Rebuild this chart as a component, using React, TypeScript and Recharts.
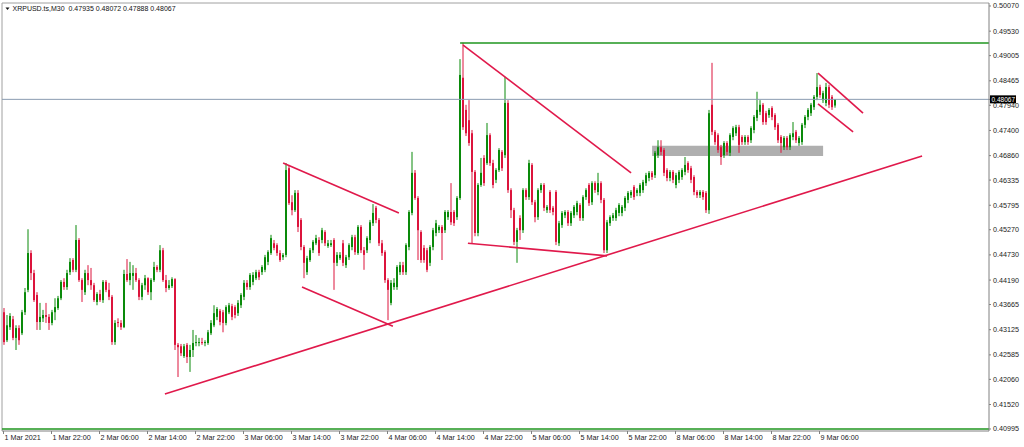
import React from 'react';
import { ComposedChart, Bar, XAxis, YAxis, ReferenceLine, ReferenceArea } from 'recharts';

// XRPUSD M30 candles (oldest first)
const opens = [
  0.4350, 0.4290, 0.4318, 0.4335, 0.4295, 0.4316, 0.4305, 0.4350, 0.4398, 0.4477,
  0.4434, 0.4387, 0.4329, 0.4337, 0.4344, 0.4340, 0.4327, 0.4350, 0.4359, 0.4380,
  0.4415, 0.4404, 0.4436, 0.4462, 0.4441, 0.4505, 0.4419, 0.4393, 0.4434, 0.4419,
  0.4408, 0.4372, 0.4389, 0.4376, 0.4415, 0.4398, 0.4383, 0.4286, 0.4329, 0.4327,
  0.4318, 0.4432, 0.4419, 0.4428, 0.4434, 0.4419, 0.4383, 0.4408, 0.4423, 0.4393,
  0.4419, 0.4447, 0.4441, 0.4483, 0.4419, 0.4402, 0.4406, 0.4421, 0.4280, 0.4277,
  0.4256, 0.4280, 0.4254, 0.4269, 0.4284, 0.4284, 0.4286, 0.4284, 0.4284, 0.4305,
  0.4322, 0.4340, 0.4353, 0.4350, 0.4327, 0.4350, 0.4363, 0.4361, 0.4348, 0.4365,
  0.4383, 0.4413, 0.4404, 0.4415, 0.4423, 0.4436, 0.4436, 0.4441, 0.4458, 0.4477,
  0.4498, 0.4494, 0.4477, 0.4468, 0.4473, 0.4659, 0.4586, 0.4569, 0.4606, 0.4548,
  0.4490, 0.4436, 0.4462, 0.4483, 0.4498, 0.4505, 0.4505, 0.4522, 0.4492, 0.4494,
  0.4505, 0.4456, 0.4466, 0.4498, 0.4451, 0.4468, 0.4490, 0.4511, 0.4477, 0.4533,
  0.4483, 0.4483, 0.4505, 0.4541, 0.4574, 0.4548, 0.4498, 0.4479, 0.4419, 0.4370,
  0.4404, 0.4404, 0.4436, 0.4451, 0.4436, 0.4490, 0.4563, 0.4649, 0.4595, 0.4522,
  0.4488, 0.4483, 0.4456, 0.4490, 0.4520, 0.4526, 0.4533, 0.4526, 0.4554, 0.4565,
  0.4565, 0.4554, 0.4595, 0.4853, 0.4784, 0.4762, 0.4734, 0.4651, 0.4520, 0.4623,
  0.4681, 0.4670, 0.4730, 0.4670, 0.4634, 0.4655, 0.4694, 0.4687, 0.4799, 0.4612,
  0.4569, 0.4501, 0.4552, 0.4526, 0.4612, 0.4597, 0.4666, 0.4586, 0.4554, 0.4612,
  0.4623, 0.4569, 0.4608, 0.4574, 0.4608, 0.4498, 0.4537, 0.4558, 0.4565, 0.4541,
  0.4558, 0.4565, 0.4580, 0.4552, 0.4597, 0.4623, 0.4586, 0.4627, 0.4608, 0.4627,
  0.4591, 0.4483, 0.4541, 0.4552, 0.4552, 0.4563, 0.4563, 0.4574, 0.4591, 0.4601,
  0.4619, 0.4606, 0.4606, 0.4612, 0.4627, 0.4638, 0.4649, 0.4644, 0.4687, 0.4704,
  0.4698, 0.4655, 0.4638, 0.4651, 0.4623, 0.4634, 0.4640, 0.4651, 0.4670, 0.4659,
  0.4640, 0.4608, 0.4601, 0.4608, 0.4606, 0.4569, 0.4795, 0.4737, 0.4730, 0.4704,
  0.4687, 0.4713, 0.4692, 0.4726, 0.4734, 0.4747, 0.4726, 0.4715, 0.4726, 0.4719,
  0.4741, 0.4767, 0.4780, 0.4795, 0.4777, 0.4773, 0.4788, 0.4773, 0.4752, 0.4726,
  0.4704, 0.4724, 0.4704, 0.4726, 0.4737, 0.4713, 0.4715, 0.4752, 0.4769, 0.4777,
  0.4790, 0.4812, 0.4833, 0.4805, 0.4799, 0.4833, 0.4812, 0.47935,
];

const highs = [
  0.4359, 0.4344, 0.4348, 0.4342, 0.4322, 0.4322, 0.4355, 0.4402, 0.4528, 0.4483,
  0.4441, 0.4393, 0.4370, 0.4355, 0.4370, 0.4346, 0.4355, 0.4380, 0.4385, 0.4419,
  0.4423, 0.4441, 0.4466, 0.4466, 0.4537, 0.4509, 0.4423, 0.4441, 0.4451, 0.4445,
  0.4413, 0.4393, 0.4398, 0.4419, 0.4419, 0.4413, 0.4387, 0.4333, 0.4337, 0.4333,
  0.4441, 0.4464, 0.4458, 0.4451, 0.4445, 0.4423, 0.4413, 0.4430, 0.4425, 0.4423,
  0.4458, 0.4451, 0.4494, 0.4488, 0.4430, 0.4419, 0.4425, 0.4423, 0.4284, 0.4282,
  0.4282, 0.4284, 0.4280, 0.4312, 0.4301, 0.4295, 0.4295, 0.4290, 0.4312, 0.4333,
  0.4365, 0.4361, 0.4357, 0.4355, 0.4365, 0.4370, 0.4368, 0.4365, 0.4376, 0.4391,
  0.4419, 0.4419, 0.4434, 0.4436, 0.4441, 0.4441, 0.4451, 0.4473, 0.4483, 0.4516,
  0.4505, 0.4498, 0.4483, 0.4477, 0.4670, 0.4666, 0.4601, 0.4612, 0.4612, 0.4552,
  0.4494, 0.4471, 0.4488, 0.4505, 0.4516, 0.4511, 0.4531, 0.4526, 0.4505, 0.4505,
  0.4509, 0.4479, 0.4479, 0.4505, 0.4473, 0.4498, 0.4516, 0.4516, 0.4537, 0.4537,
  0.4490, 0.4513, 0.4548, 0.4582, 0.4578, 0.4552, 0.4505, 0.4483, 0.4423, 0.4419,
  0.4423, 0.4451, 0.4458, 0.4458, 0.4498, 0.4569, 0.4694, 0.4655, 0.4599, 0.4526,
  0.4494, 0.4488, 0.4494, 0.4531, 0.4548, 0.4537, 0.4537, 0.4569, 0.4569, 0.4627,
  0.4569, 0.4599, 0.4893, 0.4928, 0.4795, 0.4805, 0.4741, 0.4655, 0.4627, 0.4681,
  0.4687, 0.4756, 0.4734, 0.4677, 0.4659, 0.4702, 0.4698, 0.4855, 0.4805, 0.4616,
  0.4574, 0.4531, 0.4558, 0.4616, 0.4616, 0.4677, 0.4670, 0.4591, 0.4616, 0.4627,
  0.4627, 0.4580, 0.4612, 0.4578, 0.4612, 0.4546, 0.4567, 0.4569, 0.4569, 0.4567,
  0.4580, 0.4589, 0.4584, 0.4601, 0.4616, 0.4627, 0.4631, 0.4631, 0.4649, 0.4631,
  0.4595, 0.4548, 0.4558, 0.4563, 0.4574, 0.4584, 0.4580, 0.4599, 0.4610, 0.4612,
  0.4623, 0.4616, 0.4627, 0.4634, 0.4649, 0.4653, 0.4653, 0.4696, 0.4719, 0.4719,
  0.4702, 0.4659, 0.4655, 0.4655, 0.4649, 0.4655, 0.4659, 0.4683, 0.4674, 0.4664,
  0.4644, 0.4612, 0.4612, 0.4612, 0.4610, 0.4784, 0.4885, 0.4741, 0.4734, 0.4709,
  0.4717, 0.4717, 0.4734, 0.4749, 0.4752, 0.4752, 0.4730, 0.4730, 0.4730, 0.4749,
  0.4773, 0.4823, 0.4805, 0.4799, 0.4782, 0.4788, 0.4792, 0.4777, 0.4756, 0.4730,
  0.4728, 0.4728, 0.4734, 0.4758, 0.4741, 0.4728, 0.4756, 0.4773, 0.4788, 0.4799,
  0.4816, 0.4863, 0.4838, 0.4825, 0.4842, 0.4838, 0.4816, 0.48072,
];

const lows = [
  0.4280, 0.4286, 0.4312, 0.4290, 0.4269, 0.4280, 0.4301, 0.4344, 0.4393, 0.4419,
  0.4372, 0.4312, 0.4312, 0.4329, 0.4327, 0.4312, 0.4322, 0.4333, 0.4355, 0.4376,
  0.4398, 0.4398, 0.4430, 0.4436, 0.4436, 0.4415, 0.4372, 0.4387, 0.4408, 0.4398,
  0.4372, 0.4365, 0.4372, 0.4370, 0.4393, 0.4376, 0.4280, 0.4280, 0.4318, 0.4312,
  0.4316, 0.4415, 0.4408, 0.4398, 0.4415, 0.4376, 0.4376, 0.4398, 0.4387, 0.4376,
  0.4415, 0.4436, 0.4436, 0.4415, 0.4393, 0.4398, 0.4402, 0.4269, 0.4211, 0.4256,
  0.4252, 0.4241, 0.4222, 0.4254, 0.4277, 0.4277, 0.4280, 0.4277, 0.4280, 0.4301,
  0.4318, 0.4333, 0.4322, 0.4307, 0.4322, 0.4346, 0.4333, 0.4337, 0.4342, 0.4359,
  0.4376, 0.4398, 0.4398, 0.4408, 0.4419, 0.4419, 0.4430, 0.4436, 0.4451, 0.4473,
  0.4483, 0.4471, 0.4458, 0.4462, 0.4468, 0.4580, 0.4558, 0.4565, 0.4522, 0.4483,
  0.4423, 0.4430, 0.4458, 0.4477, 0.4494, 0.4471, 0.4498, 0.4492, 0.4488, 0.4490,
  0.4398, 0.4449, 0.4462, 0.4449, 0.4445, 0.4462, 0.4483, 0.4473, 0.4473, 0.4477,
  0.4441, 0.4477, 0.4498, 0.4535, 0.4541, 0.4492, 0.4471, 0.4413, 0.4333, 0.4365,
  0.4398, 0.4398, 0.4430, 0.4430, 0.4430, 0.4483, 0.4558, 0.4591, 0.4462, 0.4456,
  0.4456, 0.4436, 0.4449, 0.4483, 0.4513, 0.4520, 0.4462, 0.4520, 0.4548, 0.4537,
  0.4535, 0.4548, 0.4591, 0.4741, 0.4728, 0.4707, 0.4498, 0.4513, 0.4513, 0.4619,
  0.4621, 0.4666, 0.4664, 0.4616, 0.4627, 0.4651, 0.4653, 0.4681, 0.4606, 0.4552,
  0.4494, 0.4456, 0.4505, 0.4520, 0.4591, 0.4591, 0.4580, 0.4543, 0.4548, 0.4606,
  0.4567, 0.4563, 0.4563, 0.4558, 0.4494, 0.4492, 0.4531, 0.4552, 0.4535, 0.4535,
  0.4552, 0.4558, 0.4546, 0.4546, 0.4591, 0.4578, 0.4580, 0.4606, 0.4601, 0.4584,
  0.4477, 0.4477, 0.4535, 0.4546, 0.4546, 0.4556, 0.4556, 0.4567, 0.4584, 0.4595,
  0.4591, 0.4599, 0.4599, 0.4606, 0.4621, 0.4631, 0.4634, 0.4638, 0.4681, 0.4687,
  0.4642, 0.4631, 0.4631, 0.4627, 0.4616, 0.4627, 0.4634, 0.4644, 0.4649, 0.4627,
  0.4601, 0.4595, 0.4595, 0.4591, 0.4563, 0.4561, 0.4730, 0.4709, 0.4692, 0.4666,
  0.4681, 0.4687, 0.4685, 0.4719, 0.4728, 0.4692, 0.4709, 0.4709, 0.4709, 0.4713,
  0.4734, 0.4760, 0.4773, 0.4752, 0.4752, 0.4767, 0.4762, 0.4741, 0.4713, 0.4692,
  0.4698, 0.4698, 0.4698, 0.4719, 0.4713, 0.4707, 0.4709, 0.4745, 0.4762, 0.4771,
  0.4784, 0.4805, 0.4810, 0.4799, 0.4792, 0.4788, 0.4784, 0.47888,
];

const closes = [
  0.4286, 0.4322, 0.4342, 0.4295, 0.4316, 0.4290, 0.4350, 0.4393, 0.4477, 0.4434,
  0.4376, 0.4329, 0.4340, 0.4344, 0.4340, 0.4327, 0.4350, 0.4361, 0.4380, 0.4415,
  0.4404, 0.4434, 0.4458, 0.4441, 0.4505, 0.4419, 0.4398, 0.4434, 0.4419, 0.4408,
  0.4376, 0.4389, 0.4376, 0.4415, 0.4398, 0.4383, 0.4286, 0.4327, 0.4327, 0.4318,
  0.4432, 0.4419, 0.4434, 0.4434, 0.4419, 0.4383, 0.4408, 0.4423, 0.4393, 0.4419,
  0.4447, 0.4441, 0.4483, 0.4419, 0.4402, 0.4408, 0.4421, 0.4280, 0.4275, 0.4262,
  0.4277, 0.4254, 0.4269, 0.4284, 0.4286, 0.4286, 0.4284, 0.4286, 0.4307, 0.4327,
  0.4348, 0.4357, 0.4329, 0.4327, 0.4361, 0.4365, 0.4340, 0.4344, 0.4370, 0.4387,
  0.4413, 0.4404, 0.4430, 0.4430, 0.4436, 0.4425, 0.4447, 0.4468, 0.4479, 0.4509,
  0.4488, 0.4477, 0.4462, 0.4473, 0.4655, 0.4584, 0.4569, 0.4606, 0.4533, 0.4490,
  0.4456, 0.4466, 0.4483, 0.4501, 0.4509, 0.4477, 0.4526, 0.4498, 0.4498, 0.4498,
  0.4456, 0.4473, 0.4473, 0.4456, 0.4468, 0.4494, 0.4511, 0.4479, 0.4533, 0.4483,
  0.4473, 0.4509, 0.4543, 0.4563, 0.4548, 0.4498, 0.4477, 0.4419, 0.4398, 0.4413,
  0.4413, 0.4447, 0.4451, 0.4436, 0.4494, 0.4565, 0.4649, 0.4595, 0.4526, 0.4462,
  0.4462, 0.4441, 0.4490, 0.4526, 0.4541, 0.4533, 0.4520, 0.4565, 0.4565, 0.4543,
  0.4541, 0.4595, 0.4859, 0.4747, 0.4734, 0.4713, 0.4651, 0.4520, 0.4623, 0.4649,
  0.4627, 0.4730, 0.4670, 0.4623, 0.4655, 0.4698, 0.4659, 0.4799, 0.4612, 0.4569,
  0.4501, 0.4526, 0.4526, 0.4612, 0.4597, 0.4670, 0.4586, 0.4554, 0.4612, 0.4623,
  0.4574, 0.4576, 0.4569, 0.4565, 0.4501, 0.4541, 0.4563, 0.4565, 0.4541, 0.4563,
  0.4576, 0.4584, 0.4552, 0.4597, 0.4612, 0.4584, 0.4627, 0.4612, 0.4627, 0.4591,
  0.4483, 0.4543, 0.4554, 0.4558, 0.4569, 0.4580, 0.4576, 0.4595, 0.4606, 0.4608,
  0.4597, 0.4612, 0.4623, 0.4629, 0.4644, 0.4649, 0.4640, 0.4692, 0.4704, 0.4694,
  0.4649, 0.4638, 0.4651, 0.4634, 0.4644, 0.4651, 0.4655, 0.4666, 0.4655, 0.4634,
  0.4608, 0.4601, 0.4608, 0.4597, 0.4569, 0.4777, 0.4737, 0.4715, 0.4698, 0.4683,
  0.4713, 0.4694, 0.4730, 0.4745, 0.4747, 0.4709, 0.4715, 0.4726, 0.4715, 0.4745,
  0.4769, 0.4784, 0.4795, 0.4758, 0.4758, 0.4784, 0.4769, 0.4747, 0.4719, 0.4713,
  0.4724, 0.4704, 0.4730, 0.4734, 0.4719, 0.4724, 0.4752, 0.4769, 0.4784, 0.4795,
  0.4812, 0.4833, 0.4816, 0.4820, 0.4833, 0.4795, 0.4790, 0.48067,
];

// one label every 16 bars (8 hours)
const timeLabels = [
  '1 Mar 2021', '1 Mar 22:00', '2 Mar 06:00', '2 Mar 14:00', '2 Mar 22:00', '3 Mar 06:00',
  '3 Mar 14:00', '3 Mar 22:00', '4 Mar 06:00', '4 Mar 14:00', '4 Mar 22:00', '5 Mar 06:00',
  '5 Mar 14:00', '5 Mar 22:00', '8 Mar 06:00', '8 Mar 14:00', '8 Mar 22:00', '9 Mar 06:00',
];
const barsPerLabel = 16;

const priceTicks = [
  0.5007, 0.4953, 0.49005, 0.48465, 0.4794, 0.474, 0.4686, 0.46335, 0.45795,
  0.4527, 0.4473, 0.4419, 0.43665, 0.43125, 0.42585, 0.4206, 0.4152, 0.40995,
];
const lastPrice = 0.48067;
const header = 'XRPUSD.ts,M30  0.47935 0.48072 0.47888 0.48067';

// drawn objects: [barIndex, price] pairs
const trendStarts = [[53.8, 0.41744], [93.2, 0.4670], [99.5, 0.4404], [153.2, 0.4923], [154.8, 0.4498], [271.5, 0.4863], [271.5, 0.4797]];
const trendEnds = [[306.2, 0.46851], [131.8, 0.4563], [129.8, 0.4320], [209.2, 0.4649], [201.2, 0.4471], [286.5, 0.4777], [283.2, 0.4737]];
const resistance = [152.2, 0.49276];
const bottomLine = 0.40995;
const zoneX = [216.2, 273.2];
const zoneY = [0.4685, 0.4707];

const xDomain = [-0.5, 328.5];
const yDomain = [0.40952, 0.50134];

const BULL = '#0a8a0a';
const BEAR = '#dc143c';
const LINE_RED = '#e0194b';
const LINE_GREEN = '#1f961f';
const FONT = '"Liberation Sans", Arial, sans-serif';

const data = opens.map((o, i) => ({
  i,
  open: o,
  high: highs[i],
  low: lows[i],
  close: closes[i],
  range: [lows[i], highs[i]],
}));

const Candle = (props: any) => {
  const { x, y, width, height, payload } = props;
  if (!payload || !height) return null;
  const { open, close, high, low } = payload;
  const k = height / (high - low);
  const col = Math.floor(x + width / 2);
  const top = y + (high - Math.max(open, close)) * k;
  const bot = y + (high - Math.min(open, close)) * k;
  const color = close >= open ? BULL : BEAR;
  return (
    <g>
      <line x1={col + 1} x2={col + 1} y1={y} y2={y + height} stroke={color} strokeWidth={1} />
      <rect x={col} y={top} width={2} height={Math.max(1, bot - top)} fill={color} />
    </g>
  );
};

const PriceTick = (props: any) => {
  const { x, y, payload } = props;
  const v = payload.value;
  if (v === lastPrice) {
    return (
      <g>
        <rect x={x - 3} y={y - 4} width={26} height={8} fill="#000" />
        <text x={x - 1.5} y={y} dy={2.3} fontSize={6.5} fill="#fff" fontFamily={FONT} textAnchor="start">
          {v.toFixed(5)}
        </text>
      </g>
    );
  }
  return (
    <text x={x} y={y} dy={2.5} fontSize={7.2} fill="#222" fontFamily={FONT} textAnchor="start">
      {v.toFixed(5)}
    </text>
  );
};

const TimeTick = (props: any) => {
  const { x, y, payload } = props;
  const label = timeLabels[Math.round(payload.value / barsPerLabel)];
  return (
    <text x={x + 1} y={y} dy={4} fontSize={7.2} fill="#222" fontFamily={FONT} textAnchor="start">
      {label}
    </text>
  );
};

export default function App() {
  const timeTicks = timeLabels.map((_, k) => k * barsPerLabel);
  return (
    <div style={{ position: 'absolute', left: 0, top: 0, width: 1024, height: 447, background: '#fff' }}>
      <ComposedChart
        width={1024}
        height={447}
        data={data}
        margin={{ top: 3, right: 0, bottom: 0, left: 2 }}
      >
        <XAxis
          dataKey="i"
          type="number"
          domain={xDomain}
          allowDataOverflow
          ticks={timeTicks}
          interval={0}
          height={16}
          tickSize={3}
          tickMargin={2}
          stroke="#808080"
          tick={<TimeTick />}
        />
        <YAxis
          orientation="right"
          type="number"
          domain={yDomain}
          allowDataOverflow
          ticks={[...priceTicks, lastPrice]}
          interval={0}
          width={35}
          tickSize={2}
          tickMargin={2}
          stroke="#808080"
          tick={<PriceTick />}
        />
        <ReferenceArea
          x1={zoneX[0]}
          x2={zoneX[1]}
          y1={zoneY[0]}
          y2={zoneY[1]}
          fill="#a6a6a6"
          fillOpacity={0.9}
          stroke="none"
        />
        <ReferenceLine y={yDomain[1]} stroke="#a0a0a0" />
        <ReferenceLine x={xDomain[0]} stroke="#a0a0a0" />
        <ReferenceLine y={lastPrice} stroke="#8a9bb0" strokeWidth={1} />
        <Bar dataKey="range" barSize={2} shape={<Candle />} isAnimationActive={false} />
        <ReferenceLine
          segment={[{ x: resistance[0], y: resistance[1] }, { x: xDomain[1], y: resistance[1] }]}
          stroke={LINE_GREEN}
          strokeWidth={1.5}
        />
        <ReferenceLine y={bottomLine} stroke={LINE_GREEN} strokeWidth={1.5} />
        {trendStarts.map((s, n) => (
          <ReferenceLine
            key={n}
            segment={[{ x: s[0], y: s[1] }, { x: trendEnds[n][0], y: trendEnds[n][1] }]}
            stroke={LINE_RED}
            strokeWidth={1.6}
          />
        ))}
      </ComposedChart>
      <svg width={300} height={16} style={{ position: 'absolute', left: 0, top: 0 }}>
        <path d="M5.5 7.5 L9.5 7.5 L7.5 10 Z" fill="#111" />
        <text x={12.5} y={10.5} fontSize={7} fill="#111" fontFamily={FONT} style={{ whiteSpace: 'pre' }}>
          {header}
        </text>
      </svg>
    </div>
  );
}
